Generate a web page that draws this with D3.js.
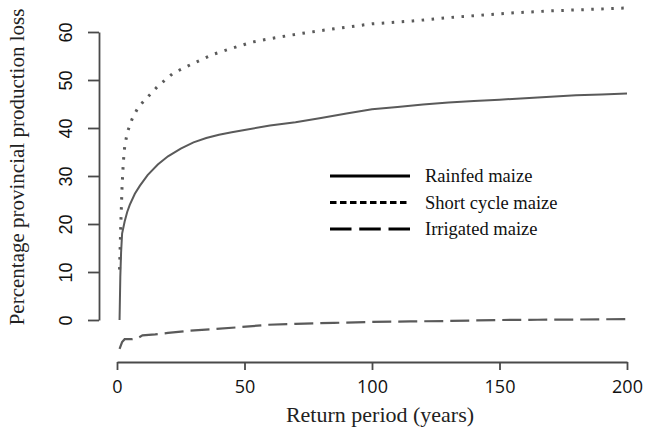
<!DOCTYPE html>
<html>
<head>
<meta charset="utf-8">
<script src="https://cdn.jsdelivr.net/npm/d3@7"></script>
<style>
  html, body { margin: 0; padding: 0; background: #fff; }
  svg { display: block; }
</style>
</head>
<body>
<svg id="chart" width="650" height="432"></svg>
<script>
// Return period (years) and percentage loss for each maize system
const rainfedPeriod = [1, 1.3, 1.6, 2, 3, 4, 5, 7, 9, 12, 16, 20, 25, 30, 35, 40, 45, 50, 60, 70, 80, 90, 100, 110, 120, 130, 140, 150, 160, 170, 180, 190, 200];
const rainfedLoss   = [0, 9, 14, 18, 20.5, 22.5, 24, 26.3, 28, 30.2, 32.4, 34.1, 35.7, 37, 37.9, 38.6, 39.1, 39.6, 40.5, 41.2, 42.1, 43, 43.9, 44.4, 44.9, 45.3, 45.6, 45.9, 46.2, 46.5, 46.8, 47.0, 47.2];

const shortPeriod = [1, 1.5, 2, 2.5, 3, 4, 6, 8, 10, 13, 16, 22, 30, 38, 45, 53, 61, 70, 80, 90, 100, 116, 130, 145, 156, 170, 185, 200];
const shortLoss   = [10.5, 20, 28, 33, 36, 39, 42, 44, 45.3, 47, 48.7, 51.4, 53.5, 55.4, 56.6, 57.9, 58.7, 59.5, 60.3, 61, 61.7, 62.3, 63, 63.6, 64, 64.4, 64.7, 65];

const irrigatedPeriod = [1, 2, 3, 6, 8, 10, 15, 20, 27, 38, 48, 59, 70, 85, 100, 115, 130, 150, 165, 180, 200];
const irrigatedLoss   = [-6, -4.6, -4, -4, -3.8, -3.2, -3, -2.7, -2.3, -1.9, -1.5, -1.0, -0.8, -0.6, -0.4, -0.3, -0.2, 0, 0.05, 0.1, 0.2];

const xTicks = [0, 50, 100, 150, 200];
const yTicks = [0, 10, 20, 30, 40, 50, 60];

const legendLabels = ["Rainfed maize", "Short cycle maize", "Irrigated maize"];

const svg = d3.select("#chart");
const axisColor = "#4a4a4a";
const curveColor = "#5a5a5a";

const x = d3.scaleLinear().domain([0, 200]).range([117, 627]);
const y = d3.scaleLinear().domain([0, 60]).range([320, 32]);

// Axes
const xAxis = svg.append("g")
  .attr("transform", "translate(0,362)")
  .call(d3.axisBottom(x).tickValues(xTicks).tickSize(8).tickPadding(6).tickSizeOuter(0));
xAxis.select(".domain").attr("stroke", axisColor).attr("stroke-width", 1.8);
xAxis.selectAll(".tick line").attr("stroke", axisColor).attr("stroke-width", 1.8);
xAxis.selectAll(".tick text")
  .attr("fill", "#111")
  .attr("font-family", "'Open Sans', sans-serif")
  .attr("font-size", 18)
  .attr("dy", null)
  .attr("y", 31);

const yAxis = svg.append("g")
  .attr("transform", "translate(99,0)")
  .call(d3.axisLeft(y).tickValues(yTicks).tickSize(11).tickSizeOuter(0));
yAxis.select(".domain").attr("stroke", axisColor).attr("stroke-width", 1.8);
yAxis.selectAll(".tick line").attr("stroke", axisColor).attr("stroke-width", 1.8);
yAxis.selectAll(".tick text")
  .attr("fill", "#111")
  .attr("font-family", "'Liberation Sans', Arial, sans-serif")
  .attr("font-size", 18)
  .attr("text-anchor", "middle")
  .attr("dy", null)
  .attr("x", 0)
  .attr("y", -27)
  .attr("transform", "rotate(-90)");

// Axis titles
svg.append("text")
  .attr("x", 380)
  .attr("y", 422)
  .attr("text-anchor", "middle")
  .attr("font-family", "'Liberation Serif', 'Times New Roman', serif")
  .attr("font-size", 22)
  .attr("fill", "#222")
  .text("Return period (years)");

svg.append("text")
  .attr("transform", "translate(24,167) rotate(-90)")
  .attr("text-anchor", "middle")
  .attr("font-family", "'Liberation Serif', 'Times New Roman', serif")
  .attr("font-size", 21)
  .attr("fill", "#222")
  .text("Percentage provincial production loss");

// Curves
const line = d3.line().x(d => x(d[0])).y(d => y(d[1]));

const series = [
  { period: rainfedPeriod, loss: rainfedLoss, width: 2, dash: null },
  { period: shortPeriod, loss: shortLoss, width: 3, dash: "2.5,7.5" },
  { period: irrigatedPeriod, loss: irrigatedLoss, width: 2.2, dash: "19,7" }
];

series.forEach(s => {
  svg.append("path")
    .datum(d3.zip(s.period, s.loss))
    .attr("d", line)
    .attr("fill", "none")
    .attr("stroke", curveColor)
    .attr("stroke-width", s.width)
    .attr("stroke-dasharray", s.dash);
});

// Legend
const legendDash = [null, "6.5,3.5", "21.5,7.75"];
const legendY = [176, 202.5, 229];
legendLabels.forEach((label, i) => {
  svg.append("line")
    .attr("x1", 330).attr("x2", 410)
    .attr("y1", legendY[i]).attr("y2", legendY[i])
    .attr("stroke", "#000")
    .attr("stroke-width", 3)
    .attr("stroke-dasharray", legendDash[i]);
  svg.append("text")
    .attr("x", 425)
    .attr("y", legendY[i] + 6)
    .attr("font-family", "'Liberation Serif', 'Times New Roman', serif")
    .attr("font-size", 18.5)
    .attr("fill", "#111")
    .text(label);
});
</script>
</body>
</html>
